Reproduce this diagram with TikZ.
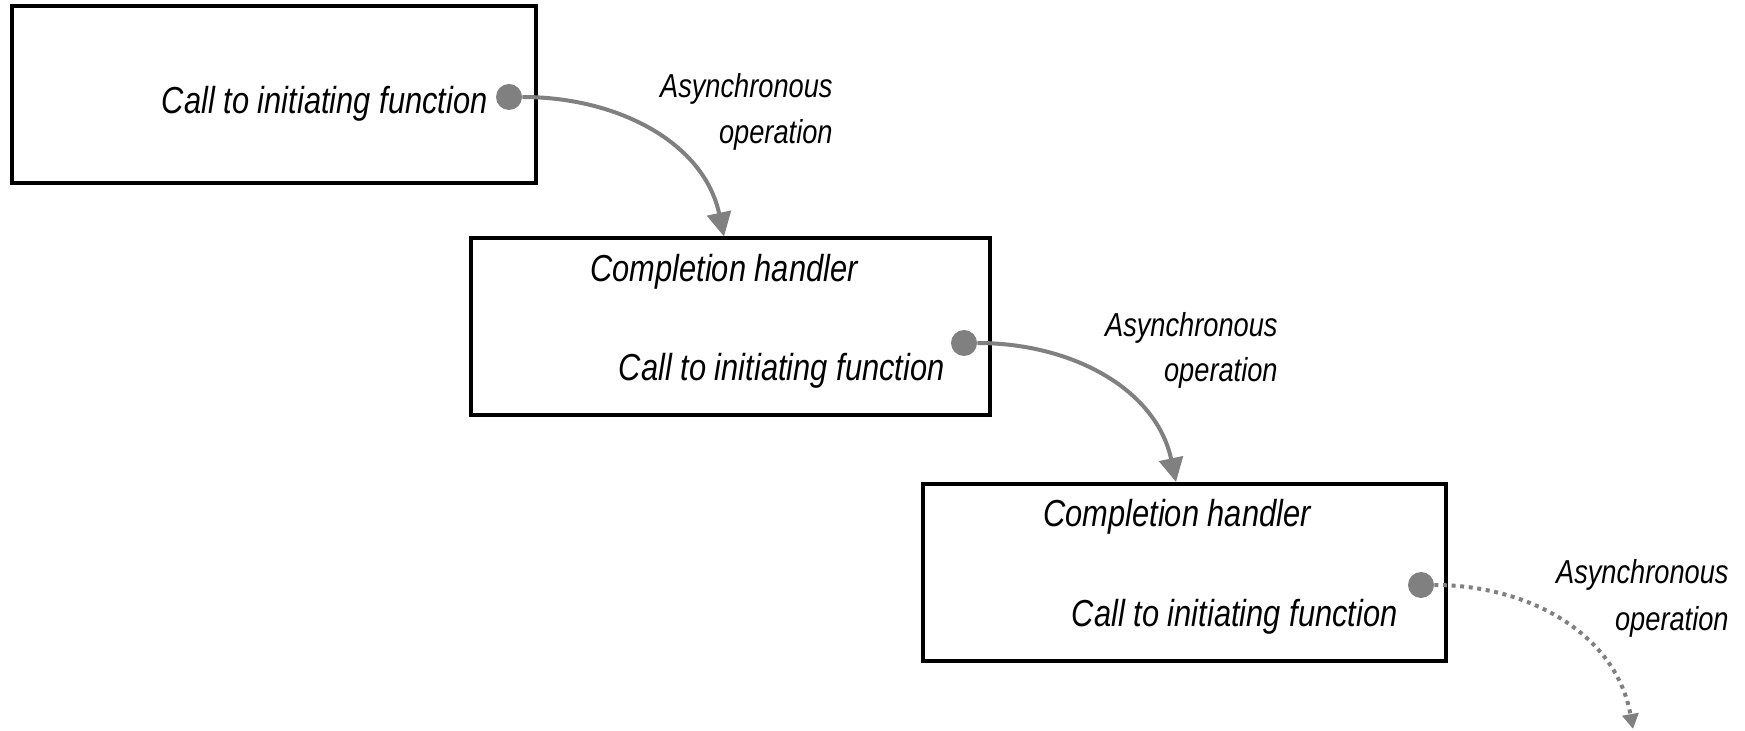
\documentclass[tikz,border=0pt]{standalone}
\usepackage{fontspec}
\setmainfont{Liberation Sans}[FakeStretch=0.82]
\usetikzlibrary{arrows.meta}
\definecolor{arrowgray}{RGB}{128,128,128}
\tikzset{
  box/.style={draw=black, line width=2pt, minimum width=#1, minimum height=88.5pt, inner sep=0pt},
  maintext/.style={font=\fontsize{18.8pt}{22pt}\selectfont\itshape, inner sep=0pt},
  labeltext/.style={font=\fontsize{16.6pt}{19pt}\selectfont\itshape, inner sep=0pt, anchor=east},
  dot/.style={circle, fill=arrowgray, minimum size=13pt, inner sep=0pt},
  flow/.style={draw=arrowgray, line width=2pt, -{Triangle[length=12pt,width=12pt]}},
  dflow/.style={draw=arrowgray, line width=2pt, dash pattern=on 2pt off 2.3pt, -{Triangle[length=7.5pt,width=8pt]}}
}
\begin{document}
\begin{tikzpicture}[x=0.5pt,y=-0.5pt]
\useasboundingbox (0,0) rectangle (1745,731);
% boxes
\node[box=262pt] (box1) at (274,95) {};
\node[box=259.5pt] (box2) at (730.5,327) {};
\node[box=261.5pt] (box3) at (1184.5,572.5) {};
% texts
\node[maintext, anchor=east] (call1) at (488,103.5) {Call to initiating function};
\node[maintext] (comp2) at (724,271.5) {Completion handler};
\node[maintext, anchor=east] (call2) at (945,370.5) {Call to initiating function};
\node[maintext] (comp3) at (1177,516.5) {Completion handler};
\node[maintext, anchor=east] (call3) at (1398,616.5) {Call to initiating function};
% dots
\node[dot] (dot1) at (509,97) {};
\node[dot] (dot2) at (964,343) {};
\node[dot] (dot3) at (1421,585) {};
% labels
\node[labeltext] (async1) at (833,88.5) {Asynchronous};
\node[labeltext] (oper1) at (833,134.5) {operation};
\node[labeltext] (async2) at (1278,327.5) {Asynchronous};
\node[labeltext] (oper2) at (1278,372.5) {operation};
\node[labeltext] (async3) at (1729,574.5) {Asynchronous};
\node[labeltext] (oper3) at (1729,621.5) {operation};
\coordinate (end3) at (1633,729);
% connectors
\draw[flow] (dot1.east) to[out=0,in=102] ([xshift=-3.25pt]box2.north);
\draw[flow] (dot2.east) to[out=0,in=102] ([xshift=-4.25pt]box3.north);
\draw[dflow] (dot3.east) to[out=0,in=100] (end3);
\end{tikzpicture}
\end{document}
